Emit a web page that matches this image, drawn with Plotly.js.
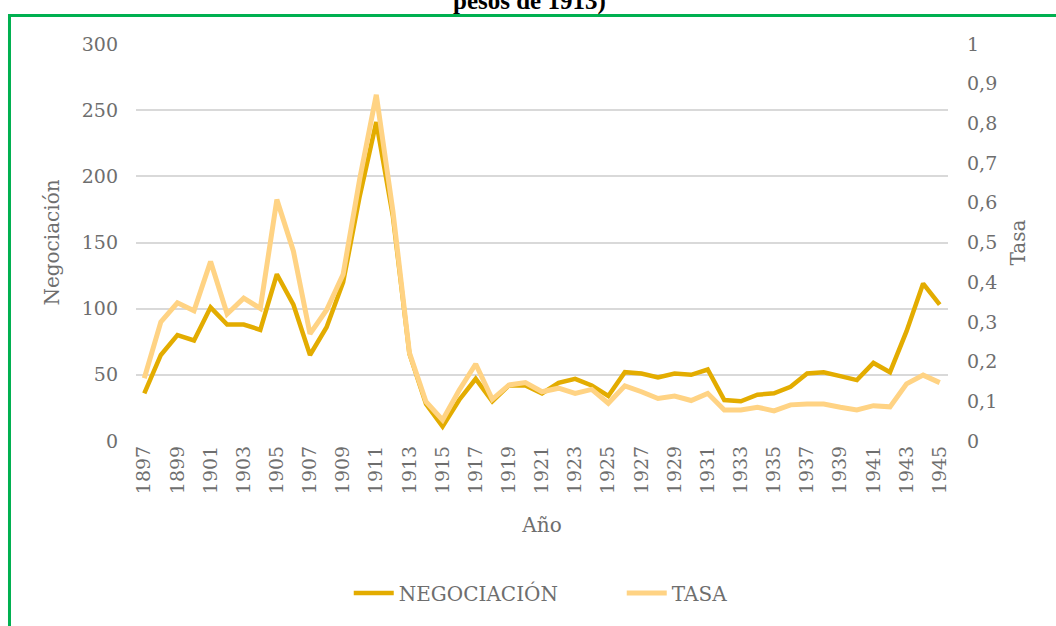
<!DOCTYPE html>
<html>
<head>
<meta charset="utf-8">
<script src="https://cdn.plot.ly/plotly-3.0.1.min.js"></script>
<style>
  html, body { margin: 0; padding: 0; background: #ffffff; }
  #chart { width: 1056px; height: 626px; }
</style>
</head>
<body>
<div id="chart"></div>
<script>
const years = [1897,1898,1899,1900,1901,1902,1903,1904,1905,1906,1907,1908,1909,1910,1911,1912,1913,1914,1915,1916,1917,1918,1919,1920,1921,1922,1923,1924,1925,1926,1927,1928,1929,1930,1931,1932,1933,1934,1935,1936,1937,1938,1939,1940,1941,1942,1943,1944,1945];
const negociacion = [36,65,80,76,101,88,88,84,126,103,65,86,120,185,241,170,66,28,11,31,47,30,42,42,36,44,47,42,34,52,51,48,51,50,54,31,30,35,36,41,51,52,49,46,59,52,83,119,103];
const tasa = [0.158,0.30,0.348,0.328,0.452,0.32,0.36,0.334,0.608,0.478,0.27,0.33,0.42,0.66,0.872,0.58,0.222,0.099,0.053,0.128,0.194,0.105,0.141,0.147,0.124,0.133,0.12,0.13,0.095,0.139,0.124,0.107,0.113,0.102,0.12,0.078,0.078,0.085,0.076,0.091,0.093,0.093,0.085,0.078,0.089,0.086,0.144,0.166,0.147];
const xTickYears = years.filter((y, i) => i % 2 === 0);
const seriesNames = ["NEGOCIACIÓN", "TASA"];

const FONT = "DejaVu Serif";
const GRAY = "#6e6e6e";

const traces = [
  {
    x: years, y: negociacion, name: seriesNames[0], type: "scatter", mode: "lines",
    line: { color: "#E3AC00", width: 4.5 }, yaxis: "y"
  },
  {
    x: years, y: tasa, name: seriesNames[1], type: "scatter", mode: "lines",
    line: { color: "#FFD384", width: 5 }, yaxis: "y2"
  }
];

const layout = {
  width: 1056, height: 626,
  margin: { l: 136, r: 108, t: 44, b: 185 },
  paper_bgcolor: "#ffffff", plot_bgcolor: "#ffffff",
  separators: ",.",
  font: { family: FONT, color: GRAY, size: 19 },
  showlegend: true,
  legend: {
    orientation: "h", x: 0.262, xanchor: "left", y: -0.383, yanchor: "middle",
    font: { family: FONT, size: 20, color: GRAY }, traceorder: "normal",
    entrywidth: 218, entrywidthmode: "pixels", itemwidth: 40
  },
  xaxis: {
    range: [1896.5, 1945.5], tickmode: "array", tickvals: xTickYears,
    ticktext: xTickYears.map(String), tickangle: -90, showgrid: false,
    zeroline: false, showline: false, ticks: "",
    tickfont: { family: FONT, size: 19, color: GRAY },
    title: { text: "Año", font: { family: FONT, size: 20, color: GRAY }, standoff: 24 }
  },
  yaxis: {
    range: [0, 300], dtick: 50, showgrid: true, gridcolor: "#d9d9d9", gridwidth: 1.5,
    zeroline: false, showline: false, ticks: "", ticklabelstandoff: 17,
    tickfont: { family: FONT, size: 19, color: GRAY },
    title: { text: "Negociación", font: { family: FONT, size: 20, color: GRAY }, standoff: 16 }
  },
  yaxis2: {
    range: [0, 1], dtick: 0.1, overlaying: "y", side: "right", showgrid: false,
    zeroline: false, showline: false, ticks: "", ticklabelstandoff: 18,
    tickfont: { family: FONT, size: 19, color: GRAY },
    title: { text: "Tasa", font: { family: FONT, size: 20, color: GRAY }, standoff: 14 }
  },
  annotations: [
    {
      text: "<b>pesos de 1913)</b>", xref: "paper", yref: "paper",
      x: 0.485, y: 1.108, xanchor: "center", yanchor: "middle", showarrow: false,
      font: { family: "Liberation Serif", size: 25, color: "#000000" }
    }
  ],
  shapes: [
    {
      type: "rect", xref: "paper", yref: "paper",
      x0: -0.1558, x1: 1.3, y0: -0.6, y1: 1.0718,
      line: { color: "#00B050", width: 3 }, fillcolor: "rgba(0,0,0,0)", layer: "below"
    }
  ]
};

Plotly.newPlot("chart", traces, layout, { displayModeBar: false, responsive: false });
</script>
</body>
</html>
